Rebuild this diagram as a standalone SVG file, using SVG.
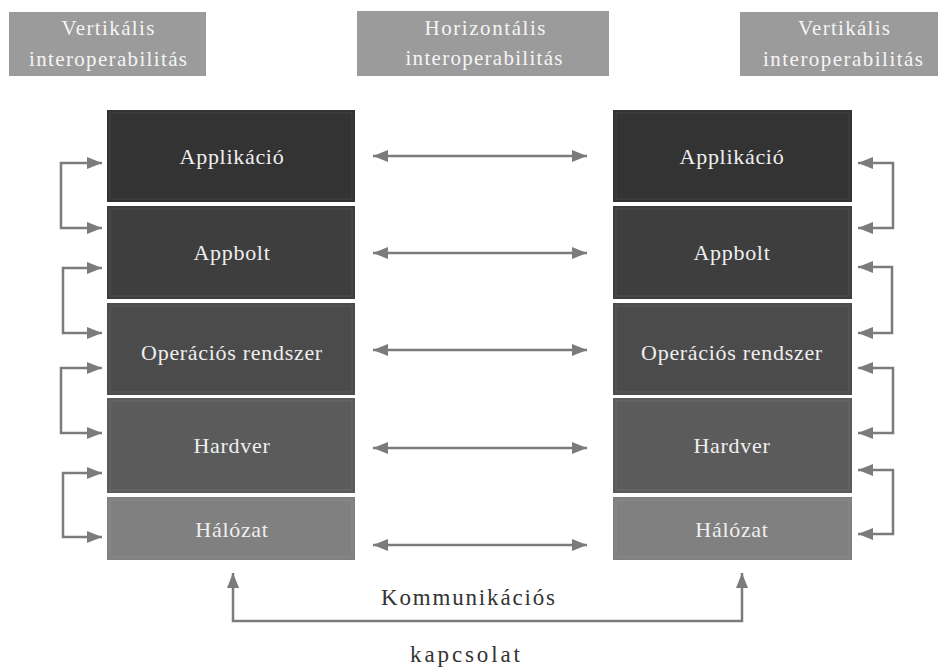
<svg xmlns="http://www.w3.org/2000/svg" width="938" height="668" viewBox="0 0 938 668">
<style>
.hdr{fill:#9b9b9b}
.ht{font-family:"Liberation Serif",serif;font-size:21px;fill:#f5f5f5;text-anchor:middle}
.bt{font-family:"Liberation Serif",serif;font-size:22px;fill:#efefef;text-anchor:middle;letter-spacing:0.7px}
.frame{fill:none;stroke:#ffffff;stroke-opacity:0.06;stroke-width:1.5}
.conn{fill:none;stroke:#7b7b7b;stroke-width:2.5}
.lt{font-family:"Liberation Serif",serif;font-size:23px;fill:#333333;text-anchor:middle}
</style>
<defs>
<marker id="ah" viewBox="0 0 15 12" refX="15" refY="6" markerWidth="15" markerHeight="12" markerUnits="userSpaceOnUse" orient="auto-start-reverse">
<path d="M0,0 L15,6 L0,12 Z" fill="#7b7b7b"/>
</marker>
</defs>
<rect width="938" height="668" fill="#ffffff"/>

<g id="hdr-left">
<rect class="hdr" x="9" y="12" width="197" height="64"/>
<text class="ht" x="108" y="35" textLength="93" lengthAdjust="spacing">Vertikális</text>
<text class="ht" x="108" y="66" textLength="158" lengthAdjust="spacing">interoperabilitás</text>
</g>
<g id="hdr-mid">
<rect class="hdr" x="357" y="11" width="252" height="65"/>
<text class="ht" x="485" y="35" textLength="121" lengthAdjust="spacing">Horizontális</text>
<text class="ht" x="484" y="65" textLength="157" lengthAdjust="spacing">interoperabilitás</text>
</g>
<g id="hdr-right">
<rect class="hdr" x="740" y="12" width="198" height="64"/>
<text class="ht" x="844" y="35" textLength="92" lengthAdjust="spacing">Vertikális</text>
<text class="ht" x="843" y="66" textLength="160" lengthAdjust="spacing">interoperabilitás</text>
</g>

<g id="l-app">
<rect x="107" y="110" width="248" height="92" fill="#333333"/>
<rect class="frame" x="110" y="113" width="242" height="86"/>
<text class="bt" x="232" y="164">Applikáció</text>
</g>
<g id="l-appbolt">
<rect x="107" y="206" width="248" height="93" fill="#3e3e3e"/>
<rect class="frame" x="110" y="209" width="242" height="87"/>
<text class="bt" x="232" y="260">Appbolt</text>
</g>
<g id="l-os">
<rect x="107" y="303" width="248" height="92" fill="#4b4b4b"/>
<rect class="frame" x="110" y="306" width="242" height="86"/>
<text class="bt" x="232" y="360">Operációs rendszer</text>
</g>
<g id="l-hw">
<rect x="107" y="398" width="248" height="95" fill="#5b5b5b"/>
<rect class="frame" x="110" y="401" width="242" height="89"/>
<text class="bt" x="232" y="453">Hardver</text>
</g>
<g id="l-net">
<rect x="107" y="497" width="248" height="63" fill="#808080"/>
<rect class="frame" x="110" y="500" width="242" height="57"/>
<text class="bt" x="232" y="537">Hálózat</text>
</g>

<g id="r-app">
<rect x="613" y="110" width="239" height="92" fill="#333333"/>
<rect class="frame" x="616" y="113" width="233" height="86"/>
<text class="bt" x="732" y="164">Applikáció</text>
</g>
<g id="r-appbolt">
<rect x="613" y="206" width="239" height="93" fill="#3e3e3e"/>
<rect class="frame" x="616" y="209" width="233" height="87"/>
<text class="bt" x="732" y="260">Appbolt</text>
</g>
<g id="r-os">
<rect x="613" y="303" width="239" height="92" fill="#4b4b4b"/>
<rect class="frame" x="616" y="306" width="233" height="86"/>
<text class="bt" x="732" y="360">Operációs rendszer</text>
</g>
<g id="r-hw">
<rect x="613" y="398" width="239" height="95" fill="#5b5b5b"/>
<rect class="frame" x="616" y="401" width="233" height="89"/>
<text class="bt" x="732" y="453">Hardver</text>
</g>
<g id="r-net">
<rect x="613" y="497" width="239" height="63" fill="#808080"/>
<rect class="frame" x="616" y="500" width="233" height="57"/>
<text class="bt" x="732" y="537">Hálózat</text>
</g>

<g id="connectors">
<path class="conn" d="M373,156 H587" marker-start="url(#ah)" marker-end="url(#ah)"/>
<path class="conn" d="M373,253 H587" marker-start="url(#ah)" marker-end="url(#ah)"/>
<path class="conn" d="M373,350 H587" marker-start="url(#ah)" marker-end="url(#ah)"/>
<path class="conn" d="M373,448 H587" marker-start="url(#ah)" marker-end="url(#ah)"/>
<path class="conn" d="M373,545 H587" marker-start="url(#ah)" marker-end="url(#ah)"/>

<path class="conn" d="M102,163 H61 V228 H102" marker-start="url(#ah)" marker-end="url(#ah)"/>
<path class="conn" d="M102,268 H63 V333 H102" marker-start="url(#ah)" marker-end="url(#ah)"/>
<path class="conn" d="M102,368 H61 V433 H102" marker-start="url(#ah)" marker-end="url(#ah)"/>
<path class="conn" d="M102,473 H63 V537 H102" marker-start="url(#ah)" marker-end="url(#ah)"/>

<path class="conn" d="M858,163 H893 V228 H858" marker-start="url(#ah)" marker-end="url(#ah)"/>
<path class="conn" d="M858,267 H892 V333 H858" marker-start="url(#ah)" marker-end="url(#ah)"/>
<path class="conn" d="M858,368 H893 V433 H858" marker-start="url(#ah)" marker-end="url(#ah)"/>
<path class="conn" d="M858,470 H893 V534 H858" marker-start="url(#ah)" marker-end="url(#ah)"/>

<path class="conn" d="M233,573 V621 H742 V573" marker-start="url(#ah)" marker-end="url(#ah)"/>
</g>
<text class="lt" x="468" y="605" textLength="174" lengthAdjust="spacing">Kommunikációs</text>
<text class="lt" x="465" y="662" textLength="110" lengthAdjust="spacing">kapcsolat</text>
</svg>
